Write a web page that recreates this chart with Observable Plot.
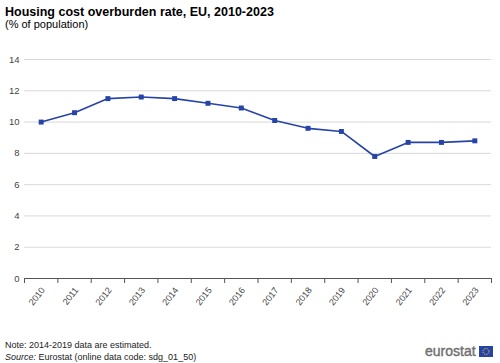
<!DOCTYPE html>
<html>
<head>
<meta charset="utf-8">
<script src="https://cdn.jsdelivr.net/npm/d3@7"></script>
<script src="https://cdn.jsdelivr.net/npm/@observablehq/plot@0.6"></script>
<style>
  body { margin: 0; background: #fff; font-family: "Liberation Sans", Arial, sans-serif; }
  #wrap { position: relative; width: 500px; height: 363px; overflow: hidden; }
  #title { position: absolute; left: 5px; top: 5px; font-size: 12.5px; font-weight: bold; color: #000; }
  #subtitle { position: absolute; left: 5px; top: 18px; font-size: 11px; color: #000; }
  #chart { position: absolute; left: 0; top: 36px; }
  #note { position: absolute; left: 5px; top: 339px; font-size: 9px; color: #222; line-height: 12px; }
  #logo { position: absolute; left: 425px; top: 343px; font-size: 14px; color: #707070; -webkit-text-stroke: 0.4px #707070; }
  #flag { position: absolute; left: 479px; top: 346px; }
</style>
</head>
<body>
<div id="wrap">
  <div id="title">Housing cost overburden rate, EU, 2010-2023</div>
  <div id="subtitle">(% of population)</div>
  <div id="chart"></div>
  <div id="note">Note: 2014-2019 data are estimated.<br><i>Source:</i> Eurostat (online data code: sdg_01_50)</div>
  <div id="logo">eurostat</div>
  <svg id="flag" width="14" height="11" viewBox="0 0 14 11">
    <rect width="14" height="11" fill="#2644A7"/>
    <circle cx="7" cy="5.5" r="3" fill="none" stroke="#FFD617" stroke-width="1" stroke-dasharray="1 0.9"/>
  </svg>
</div>
<script>
const years = [2010, 2011, 2012, 2013, 2014, 2015, 2016, 2017, 2018, 2019, 2020, 2021, 2022, 2023];
const values = [10.0, 10.6, 11.5, 11.6, 11.5, 11.2, 10.9, 10.1, 9.6, 9.4, 7.8, 8.7, 8.7, 8.8];
const yTicks = [0, 2, 4, 6, 8, 10, 12, 14];

const data = years.map((y, i) => ({year: y, value: values[i]}));
const boundaries = years.map(y => y - 0.5).concat([years[years.length - 1] + 0.5]);

const chart = Plot.plot({
  width: 500,
  height: 280,
  marginLeft: 24,
  marginRight: 9,
  marginTop: 23,
  marginBottom: 38,
  style: {fontFamily: "Liberation Sans, Arial, sans-serif", fontSize: "9px", color: "#444", background: "transparent"},
  x: {type: "linear", domain: [years[0] - 0.5, years[years.length - 1] + 0.5]},
  y: {domain: [0, 14]},
  marks: [
    Plot.gridY(yTicks.filter(d => d > 0), {stroke: "#d9d9d9", strokeOpacity: 1}),
    Plot.axisY(yTicks, {tickSize: 0, tickPadding: 5, fontSize: 9.5, fill: "#444", label: null}),
    Plot.axisX(boundaries, {tickSize: 5, text: null, stroke: "#555", label: null}),
    Plot.text(years, {x: d => d, y: 0, text: d => String(d), rotate: -52, textAnchor: "end", lineAnchor: "middle", dy: 10, dx: 2, fontSize: 9, fill: "#444"}),
    Plot.ruleY([0], {stroke: "#555"}),
    Plot.line(data, {x: "year", y: "value", stroke: "#2644A7", strokeWidth: 1.6}),
    Plot.dot(data, {x: "year", y: "value", symbol: "square", r: 2.8, fill: "#2644A7", stroke: "none"})
  ]
});
document.getElementById("chart").appendChild(chart);
</script>
</body>
</html>
